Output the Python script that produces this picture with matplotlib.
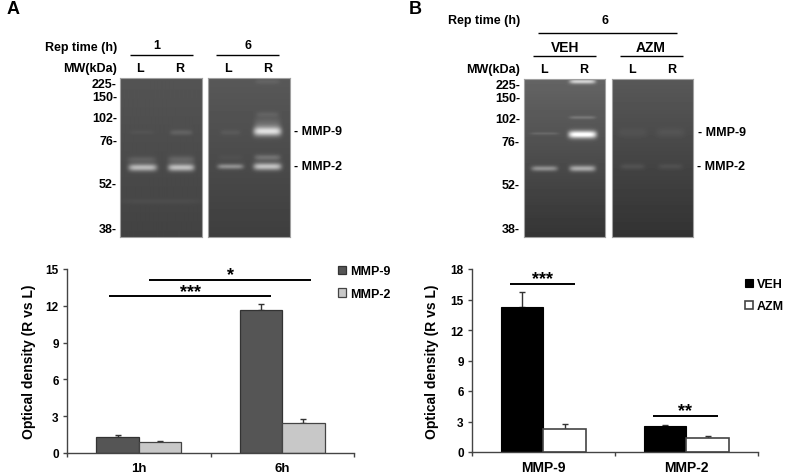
import numpy as np
import matplotlib
matplotlib.use("Agg")
import matplotlib.pyplot as plt

plt.rcParams['font.family'] = ['Liberation Sans', 'DejaVu Sans']
plt.rcParams['font.weight'] = 'bold'
plt.rcParams['axes.labelweight'] = 'bold'

W, H = 794, 477

# bar chart A
time_labels = ["1h", "6h"]
mmp9_time = [1.3, 11.65]
mmp2_time = [0.9, 2.45]
mmp9_time_err = [0.15, 0.5]
mmp2_time_err = [0.08, 0.3]

# bar chart B
mmp_labels = ["MMP-9", "MMP-2"]
veh_vals = [14.3, 2.6]
azm_vals = [2.26, 1.34]
veh_err = [1.4, 0.08]
azm_err = [0.5, 0.25]

mw_labels = ["225-", "150-", "102-", "76-", "52-", "38-"]
mw_y_a = [85, 98, 119, 142, 185, 230]
mw_y_b = [86, 99, 120, 143, 186, 230]

# gel bands: lane x, y, half width, y sigma, brightness
gel_a1_bands = [(22, 89, 14, 2.6, 110), (60, 89, 13, 2.6, 115), (21, 81, 14, 2.2, 20),
                (60, 81, 13, 2.6, 26), (21, 54, 12, 1.5, 6), (60, 54, 11, 2.0, 20),
                (40, 123, 42, 2.0, 7)]
gel_a2_bands = [(22, 88, 13, 1.9, 68), (59, 88, 14, 2.6, 118), (59, 79, 13, 2.2, 38),
                (22, 79, 12, 2.0, 5), (59, 53, 14, 3.2, 130), (59, 47, 13, 5.0, 30),
                (22, 54, 10, 2.0, 10), (59, 36, 11, 2.0, 14), (59, 3, 12, 2.0, 12)]
gel_b1_bands = [(20, 89, 13, 1.9, 70), (58, 89, 13, 2.2, 95), (58, 55, 14, 2.7, 175),
                (20, 54, 14, 1.0, 20), (58, 38, 13, 1.2, 30), (58, 2, 13, 1.7, 110)]
gel_b2_bands = [(20, 87, 12, 2.0, 14), (58, 87, 12, 2.0, 12), (20, 53, 14, 3.0, 7),
                (58, 53, 14, 3.0, 9)]


def px_axes(fig, x0, y0, x1, y1):
    return fig.add_axes([x0 / W, 1 - y1 / H, (x1 - x0) / W, (y1 - y0) / H])


def draw_gel(fig, box, bands, top, bottom):
    ax = px_axes(fig, *box)
    h = box[3] - box[1]
    w = box[2] - box[0]
    yy, xx = np.mgrid[0:h, 0:w]
    img = top + (bottom - top) * yy / h
    for x, y, hw, sy, b in bands:
        across = np.exp(-((xx - x) / hw) ** 6)
        down = np.exp(-((yy - y) / sy) ** 2 / 2)
        img = img + b * across * down
    ax.imshow(img, cmap="gray", vmin=0, vmax=255, aspect="auto", interpolation="bilinear")
    ax.set_xticks([])
    ax.set_yticks([])
    for s in ax.spines.values():
        s.set_color("#a0a0a0")
        s.set_linewidth(0.8)


def draw_sig(ax, x0, x1, y, label):
    ax.plot([x0, x1], [y, y], color="black", lw=1.4, solid_capstyle="butt", clip_on=False)
    ax.annotate(label, xy=((x0 + x1) / 2, y), xytext=(0, 0.5), textcoords="offset points",
                ha="center", va="baseline", fontsize=13, annotation_clip=False)


def style_axes(ax, ymax, step):
    ax.set_xlim(-0.5, 1.5)
    ax.set_ylim(0, ymax)
    ax.set_yticks(np.arange(0, ymax + 1, step))
    ax.set_xticks([-0.5, 0.5, 1.5])
    ax.set_xticklabels([])
    ax.spines["top"].set_visible(False)
    ax.spines["right"].set_visible(False)
    for s in ["left", "bottom"]:
        ax.spines[s].set_color("#444444")
        ax.spines[s].set_linewidth(1.0)
    ax.tick_params(axis="both", color="#444444", width=1, length=3, labelsize=8.5, pad=3)
    ax.patch.set_alpha(0)


def main():
    fig = plt.figure(figsize=(W / 100, H / 100), dpi=100)

    draw_gel(fig, (120, 79, 202, 238), gel_a1_bands, 84, 66)
    draw_gel(fig, (208, 79, 290, 238), gel_a2_bands, 88, 62)
    draw_gel(fig, (524, 80, 605, 238), gel_b1_bands, 100, 52)
    draw_gel(fig, (612, 80, 693, 238), gel_b2_bands, 88, 50)

    # chart A
    ax = px_axes(fig, 67, 270, 354, 454)
    style_axes(ax, 15, 3)
    x = np.arange(2)
    bw = 0.295
    b1 = ax.bar(x - bw / 2, mmp9_time, bw, color="#555555", edgecolor="#333333", lw=0.9, zorder=2)
    b2 = ax.bar(x + bw / 2, mmp2_time, bw, color="#c8c8c8", edgecolor="#444444", lw=0.9, zorder=2)
    ax.errorbar(x - bw / 2, mmp9_time, yerr=[np.zeros(2), mmp9_time_err], fmt="none",
                ecolor="#333333", elinewidth=1, capsize=2, capthick=1, zorder=1)
    ax.errorbar(x + bw / 2, mmp2_time, yerr=[np.zeros(2), mmp2_time_err], fmt="none",
                ecolor="#333333", elinewidth=1, capsize=2, capthick=1, zorder=1)
    for xp, lab in zip(x, time_labels):
        ax.text(xp, -1.2, lab, ha="center", va="center", fontsize=9.5)
    ax.set_ylabel("Optical density (R vs L)", fontsize=10, labelpad=7)
    draw_sig(ax, -0.206, 0.921, 12.77, "***")
    draw_sig(ax, 0.074, 1.202, 14.13, "*")
    ax.legend([b1, b2], ["MMP-9", "MMP-2"], loc="upper left", bbox_to_anchor=(0.945, 1.02),
              frameon=False, fontsize=9, handlelength=0.62, handleheight=0.62,
              handletextpad=0.3, labelspacing=0.85, borderpad=0, borderaxespad=0)

    # chart B
    ax = px_axes(fig, 472, 270, 758, 453)
    style_axes(ax, 18, 3)
    bw = 0.297
    b1 = ax.bar(x - bw / 2, veh_vals, bw, color="black", edgecolor="black", lw=0.8, zorder=2)
    b2 = ax.bar(x + bw / 2, azm_vals, bw, color="white", edgecolor="#444444", lw=1.2, zorder=2)
    ax.errorbar(x - bw / 2, veh_vals, yerr=[np.zeros(2), veh_err], fmt="none",
                ecolor="#333333", elinewidth=1, capsize=2, capthick=1, zorder=1)
    ax.errorbar(x + bw / 2, azm_vals, yerr=[np.zeros(2), azm_err], fmt="none",
                ecolor="#333333", elinewidth=1, capsize=2, capthick=1, zorder=1)
    for xp, lab in zip(x, mmp_labels):
        ax.text(xp, -1.45, lab, ha="center", va="center", fontsize=10)
    ax.set_ylabel("Optical density (R vs L)", fontsize=10, labelpad=8)
    draw_sig(ax, -0.235, 0.221, 16.5, "***")
    draw_sig(ax, 0.767, 1.219, 3.57, "**")
    ax.legend([b1, b2], ["VEH", "AZM"], loc="upper left", bbox_to_anchor=(0.955, 0.95),
              frameon=False, fontsize=9, handlelength=0.62, handleheight=0.62,
              handletextpad=0.3, labelspacing=0.8, borderpad=0, borderaxespad=0)

    # text and rules over the gels, in image pixels
    top = px_axes(fig, 0, 0, W, H)
    top.set_xlim(0, W)
    top.set_ylim(H, 0)
    top.axis("off")

    def label(tx, ty, s, ha="center", size=9):
        top.text(tx, ty, s, ha=ha, va="center", fontsize=size)

    def rule(x0, x1, y):
        top.plot([x0, x1], [y, y], color="black", lw=1.0, solid_capstyle="butt")

    label(13, 10, "A", size=13)
    label(117, 48, "Rep time (h)", ha="right")
    label(117, 69, "MW(kDa)", ha="right")
    label(157, 46, "1")
    label(248, 46, "6")
    rule(130, 193, 56)
    rule(216, 279, 56)
    for tx, s in [(140, "L"), (180, "R"), (228, "L"), (268, "R")]:
        label(tx, 69, s)
    for ty, s in zip(mw_y_a, mw_labels):
        label(117, ty, s, ha="right")
    label(294, 132, "- MMP-9", ha="left")
    label(294, 167, "- MMP-2", ha="left")

    label(415, 9, "B", size=13)
    label(520, 21, "Rep time (h)", ha="right")
    label(520, 70, "MW(kDa)", ha="right")
    label(605, 21, "6")
    rule(538, 677, 34)
    label(565, 48, "VEH", size=10)
    label(651, 48, "AZM", size=10)
    rule(533, 596, 57)
    rule(620, 683, 57)
    for tx, s in [(544, "L"), (584, "R"), (632, "L"), (672, "R")]:
        label(tx, 70, s)
    for ty, s in zip(mw_y_b, mw_labels):
        label(520, ty, s, ha="right")
    label(698, 133, "- MMP-9", ha="left")
    label(697, 167, "- MMP-2", ha="left")

    fig.savefig("out.png", dpi=100)


if __name__ == "__main__":
    main()
